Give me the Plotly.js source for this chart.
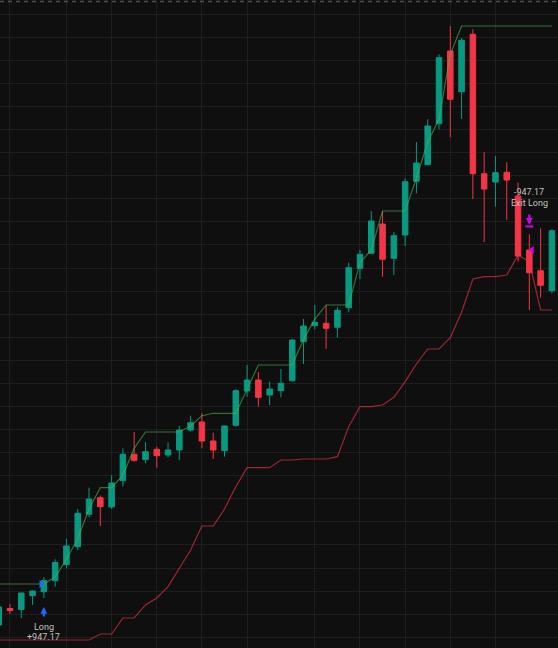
<!DOCTYPE html>
<html>
<head>
<meta charset="utf-8">
<script src="https://cdn.plot.ly/plotly-3.0.1.min.js"></script>
<style>
  html, body { margin: 0; padding: 0; background: #0f0f0f; }
  #chart { width: 558px; height: 648px; }
</style>
</head>
<body>
<div id="chart"></div>
<script>
// bar prices (arbitrary price units, 10 per grid line)
var opens = [105.33, 112.48, 112.05, 118.02, 119.76, 124.53, 131.46, 139.26, 153.29, 160.49,
             156.46, 167.85, 179.29, 176.95, 181.46, 178.99, 181.15, 189.82, 193.29, 185.05,
             180.85, 191.86, 206.72, 211.48, 204.98, 206.85, 211.18, 228.08, 235.01, 236.05,
             234.32, 242.81, 259.88, 266.38, 279.08, 264.21, 274.31, 297.58, 304.77, 322.53,
             354.03, 336.40, 361.27, 300.87, 297.27, 301.48, 291.21, 267.81, 258.84, 250.18];
var highs = [114.00, 114.43, 119.20, 120.28, 126.13, 133.80, 142.72, 155.59, 164.82, 161.35,
             170.19, 181.89, 188.95, 184.62, 182.58, 184.49, 191.55, 196.02, 197.06, 188.65,
             191.77, 207.45, 217.98, 214.95, 210.75, 216.25, 229.03, 237.91, 243.98, 243.98,
             242.98, 262.31, 267.81, 284.71, 284.71, 275.61, 298.88, 314.60, 324.44, 352.60,
             364.86, 359.67, 363.44, 310.14, 308.54, 305.81, 296.97, 274.61, 277.21, 276.78];
var lows = [101.43, 110.10, 108.36, 114.00, 117.03, 121.93, 129.90, 137.83, 151.99, 148.22,
            155.59, 165.25, 176.08, 175.39, 173.49, 177.99, 176.82, 189.08, 181.89, 177.25,
            178.25, 191.25, 204.25, 199.91, 200.65, 203.99, 210.75, 218.42, 233.45, 224.92,
            229.81, 240.82, 255.24, 266.29, 256.24, 256.98, 269.54, 292.38, 304.64, 320.11,
            316.64, 324.57, 289.91, 271.28, 286.57, 280.81, 262.74, 241.81, 247.14, 249.05];
var closes = [113.13, 111.61, 119.20, 120.06, 124.53, 132.41, 139.56, 153.73, 159.92, 156.59,
              166.86, 179.29, 176.69, 180.42, 178.68, 181.15, 189.82, 192.98, 185.05, 181.15,
              191.55, 206.85, 211.48, 203.99, 207.58, 210.05, 228.81, 234.88, 236.48, 233.88,
              241.68, 260.14, 265.95, 280.38, 263.78, 274.01, 297.40, 305.51, 321.54, 351.13,
              333.11, 358.67, 300.87, 294.24, 301.30, 298.14, 265.21, 257.97, 252.51, 276.17];

// channel lines (highest high / lowest low of the previous bars)
var upperBand = [123.09, 123.09, 123.09, 123.09, 123.09, 126.13, 133.80, 142.72, 155.59, 164.82,
                 164.82, 170.19, 181.89, 188.95, 188.95, 188.95, 188.95, 191.55, 196.02, 197.06,
                 197.06, 197.06, 207.45, 217.98, 217.98, 217.98, 217.98, 229.03, 237.91, 243.98,
                 243.98, 243.98, 262.31, 267.81, 284.71, 284.71, 284.71, 298.88, 314.60, 324.44,
                 352.60, 364.86, 364.86, 364.86, 364.86, 364.86, 364.86, 364.86, 364.86, 364.86];
var lowerBand = [98.83, 98.83, 98.83, 98.83, 98.83, 98.83, 98.83, 98.83, 98.83, 101.43,
                 101.43, 108.36, 108.36, 114.00, 117.03, 121.93, 129.90, 137.83, 148.22, 148.22,
                 155.59, 165.25, 173.49, 173.49, 173.49, 176.82, 176.82, 177.25, 177.25, 177.25,
                 178.25, 191.25, 199.91, 199.91, 200.65, 203.99, 210.75, 218.42, 224.92, 224.92,
                 229.81, 240.82, 255.24, 256.24, 256.24, 256.98, 265.60, 262.74, 241.81, 241.81];

// trades
var tradeBars = [4, 47];
var tradePrices = [123.09, 267.81];
var tradeNames = ['Long', 'Exit Long'];
var tradeProfits = ['+947.17', '-947.17'];

// vertical grid lines sit on these bars
var timeGrid = [1, 6, 10, 14, 18, 22, 28, 32, 36, 40, 44];

var bars = opens.map(function (v, i) { return i; });

var GREEN = '#089981';
var RED = '#f23645';
var BLUE = '#2962ff';
var MAGENTA = '#d000f0';
var LABEL = '#c2c2c2';

var upperTrace = {
    x: bars, y: upperBand, type: 'scatter', mode: 'lines',
    line: {color: 'rgba(76,175,80,0.62)', width: 1.2},
    hoverinfo: 'skip'
};
var lowerTrace = {
    x: bars, y: lowerBand, type: 'scatter', mode: 'lines',
    line: {color: 'rgba(242,54,69,0.62)', width: 1.2},
    hoverinfo: 'skip'
};
var candles = {
    x: bars, open: opens, high: highs, low: lows, close: closes,
    type: 'candlestick',
    whiskerwidth: 0,
    increasing: {line: {color: GREEN, width: 1}, fillcolor: GREEN},
    decreasing: {line: {color: RED, width: 1}, fillcolor: RED}
};
var entryExit = {
    x: [tradeBars[0] - 0.23, tradeBars[1] + 0.23],
    y: tradePrices,
    type: 'scatter', mode: 'markers',
    marker: {symbol: ['triangle-right', 'triangle-left'], size: 7, color: [BLUE, MAGENTA]},
    hoverinfo: 'skip'
};

var labelFont = {family: 'Roboto, sans-serif', size: 9, color: LABEL};
var entry = tradeBars[0], exit = tradeBars[1];

var annotations = [
    // entry arrow under the bar
    {x: entry, y: lows[entry], xref: 'x', yref: 'y', text: '', showarrow: true,
     ax: 0, ay: 20, standoff: 9, arrowcolor: BLUE, arrowwidth: 2.2, arrowhead: 2, arrowsize: 0.62},
    {x: entry, y: lows[entry], text: tradeNames[0], showarrow: false, font: labelFont,
     yanchor: 'middle', yshift: -29},
    {x: entry, y: lows[entry], text: tradeProfits[0], showarrow: false, font: labelFont,
     yanchor: 'middle', yshift: -39.5},
    // exit arrow over the bar
    {x: exit, y: highs[exit], xref: 'x', yref: 'y', text: '', showarrow: true,
     ax: 0, ay: -21.3, standoff: 9.5, arrowcolor: MAGENTA, arrowwidth: 2.2, arrowhead: 2, arrowsize: 0.62},
    {x: exit, y: highs[exit], text: tradeNames[1], showarrow: false, font: labelFont,
     yanchor: 'middle', yshift: 31.5},
    {x: exit, y: highs[exit], text: tradeProfits[1], showarrow: false, font: labelFont,
     yanchor: 'middle', yshift: 42}
];

var shapes = [
    // pane separator at the top
    {type: 'line', xref: 'paper', yref: 'paper', x0: 0, x1: 1, y0: 0.9975, y1: 0.9975,
     line: {color: '#4f4f4f', width: 1.5, dash: '4px,4px'}},
    // foot of the exit arrow
    {type: 'line', xref: 'x', yref: 'y', xsizemode: 'pixel', ysizemode: 'pixel',
     xanchor: exit, yanchor: highs[exit], x0: -4, x1: 4, y0: 7.8, y1: 7.8,
     line: {color: MAGENTA, width: 2}}
];

var layout = {
    width: 558, height: 648,
    margin: {l: 0, r: 0, t: 0, b: 0},
    paper_bgcolor: '#0f0f0f',
    plot_bgcolor: '#0f0f0f',
    showlegend: false,
    xaxis: {
        range: [0.115, 49.54],
        tickmode: 'array', tickvals: timeGrid,
        showticklabels: false, ticks: '',
        showgrid: true, gridcolor: '#1e1e1e', gridwidth: 1,
        zeroline: false, showline: false,
        rangeslider: {visible: false}
    },
    yaxis: {
        range: [95.36, 376.13],
        tick0: 100, dtick: 10,
        showticklabels: false, ticks: '',
        showgrid: true, gridcolor: '#1e1e1e', gridwidth: 1,
        zeroline: false, showline: false
    },
    annotations: annotations,
    shapes: shapes
};

Plotly.newPlot('chart', [upperTrace, lowerTrace, candles, entryExit], layout,
               {displayModeBar: false, staticPlot: true});
</script>
</body>
</html>
